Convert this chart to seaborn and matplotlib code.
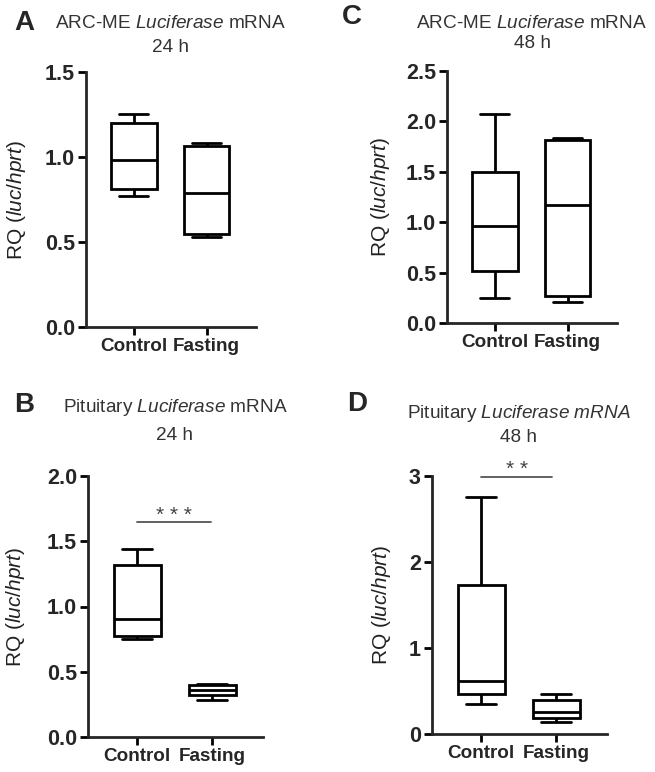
import numpy as np
import pandas as pd
import seaborn as sns
import matplotlib
matplotlib.use('Agg')
import matplotlib.pyplot as plt

sns.set_style('ticks')
plt.rcParams['font.family'] = ['Liberation Sans', 'DejaVu Sans']
plt.rcParams['mathtext.fontset'] = 'custom'
plt.rcParams['mathtext.rm'] = 'Liberation Sans'
plt.rcParams['mathtext.it'] = 'Liberation Sans:italic'

groups = ['Control', 'Fasting']

# five values per group: min, Q1, median, Q3, max
a_control = [0.77, 0.81, 0.985, 1.20, 1.25]
a_fasting = [0.53, 0.545, 0.79, 1.067, 1.085]
c_control = [0.25, 0.515, 0.965, 1.50, 2.07]
c_fasting = [0.21, 0.27, 1.175, 1.82, 1.84]
b_control = [0.752, 0.777, 0.905, 1.315, 1.44]
b_fasting = [0.28, 0.324, 0.36, 0.395, 0.405]
d_control = [0.352, 0.464, 0.618, 1.728, 2.76]
d_fasting = [0.135, 0.186, 0.259, 0.394, 0.468]

a_ticks = [0, 0.5, 1.0, 1.5]
c_ticks = [0, 0.5, 1.0, 1.5, 2.0, 2.5]
b_ticks = [0, 0.5, 1.0, 1.5, 2.0]
d_ticks = [0, 1, 2, 3]

W, H = 655, 772
fig = plt.figure(figsize=(W / 100, H / 100), dpi=100)


def px(x, y):
    return x / W, 1 - y / H


def panel(left, top, right, bottom, control, fasting, ticks, fmt, labx):
    ax = fig.add_axes([left / W, 1 - bottom / H, (right - left) / W, (bottom - top) / H])
    df = pd.DataFrame({'group': [groups[0]] * len(control) + [groups[1]] * len(fasting),
                       'RQ': control + fasting})
    sns.boxplot(data=df, x='group', y='RQ', ax=ax, whis=(0, 100), width=0.63,
                color='white', linecolor='black', linewidth=2, fliersize=0,
                capwidths=0.4)
    sns.despine(ax=ax)
    ax.spines['left'].set_linewidth(2)
    ax.spines['bottom'].set_linewidth(2)
    ax.set_xlim(-0.66, 1.68)
    ax.set_ylim(ticks[0], ticks[-1])
    ax.set_yticks(ticks)
    ax.set_yticklabels([fmt.format(t) for t in ticks], fontsize=15.5, fontweight='bold')
    ax.set_xticks([0, 1])
    ax.set_xticklabels(groups, fontsize=13.6, fontweight='bold')
    ax.tick_params(axis='both', length=6, width=2, color='black', pad=2)
    ax.set_xlabel('')
    ax.set_ylabel(r'RQ ($\it{luc/hprt}$)', fontsize=15, color='#222222')
    ax.yaxis.set_label_coords(labx, 0.5)
    return ax


def heading(letter, lx, ly, title, sub, tx, ty1, ty2):
    fig.text(*px(lx, ly), letter, fontsize=20, fontweight='bold', ha='center', va='center')
    fig.text(*px(tx, ty1), title, fontsize=13.7, color='#333333', ha='center', va='center')
    fig.text(*px(tx, ty2), sub, fontsize=13.7, color='#333333', ha='center', va='center')


ax_a = panel(86, 72, 256, 327, a_control, a_fasting, a_ticks, '{:.1f}', -0.341)
ax_c = panel(447, 71, 617, 323, c_control, c_fasting, c_ticks, '{:.1f}', -0.324)
ax_b = panel(88, 476, 263, 737, b_control, b_fasting, b_ticks, '{:.1f}', -0.349)
ax_d = panel(432, 476, 607, 734, d_control, d_fasting, d_ticks, '{:.0f}', -0.223)

heading('A', 24, 23, r'ARC-ME $\it{Luciferase}$ mRNA', '24 h', 171, 24, 47)
heading('C', 352, 17, r'ARC-ME $\it{Luciferase}$ mRNA', '48 h', 532, 24, 44)
heading('B', 24, 405, r'Pituitary $\it{Luciferase}$ mRNA', '24 h', 175, 407, 435)
heading('D', 357, 404, r'Pituitary $\it{Luciferase\ mRNA}$', '48 h', 519, 414, 437)

# significance bars
ax_b.plot([0.0, 0.98], [1.65, 1.65], color='#555555', lw=1.3, clip_on=False)
ax_b.text(0.49, 1.70, '* * *', ha='center', va='center', fontsize=15, color='#444444')
ax_d.plot([0.0, 0.95], [2.99, 2.99], color='#555555', lw=1.3, clip_on=False)
ax_d.text(0.47, 3.08, '* *', ha='center', va='center', fontsize=15, color='#444444',
          clip_on=False)

fig.savefig('out.png', dpi=100, facecolor='white')
